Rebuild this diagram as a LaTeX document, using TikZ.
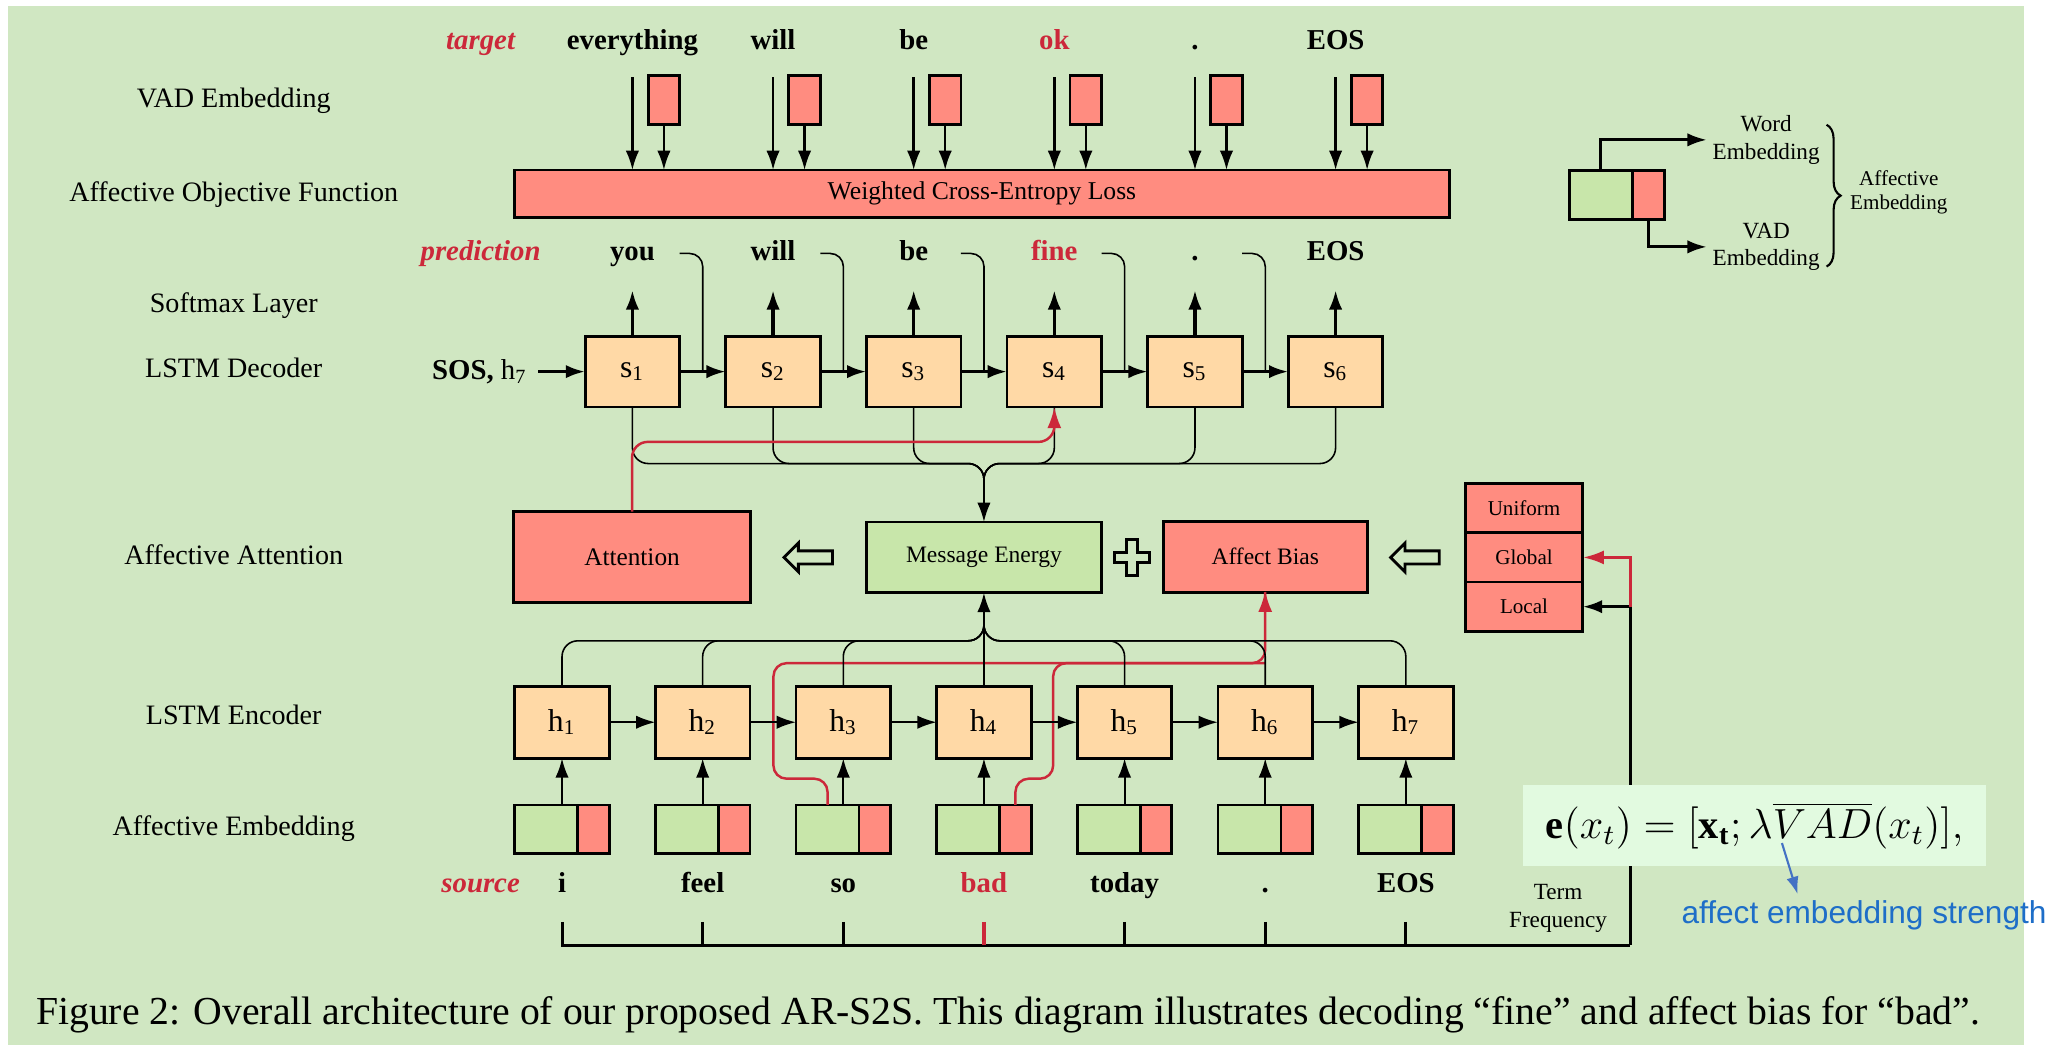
\documentclass[tikz,border=0pt]{standalone}
\usepackage{fontspec}
\setmainfont{Liberation Serif}
\setsansfont{Liberation Sans}
\usepackage{graphicx}
\usetikzlibrary{arrows.meta,calc,decorations.pathreplacing}

\definecolor{bgg}{RGB}{208,231,194}
\definecolor{peach}{RGB}{255,217,166}
\definecolor{lgreen}{RGB}{200,230,170}
\definecolor{salmon}{RGB}{255,140,128}
\definecolor{crimson}{RGB}{204,40,58}
\definecolor{fbg}{RGB}{226,250,224}
\definecolor{bluetxt}{RGB}{30,110,200}
\definecolor{bluearr}{RGB}{68,114,196}

\def\ux{0.013131cm}

\tikzset{
  bx/.style={draw, line width=0.8pt, inner sep=0pt, outer sep=0pt},
  sbox/.style={bx, fill=peach, minimum width={72*\ux}, minimum height={54*\ux}, font=\fontsize{9}{10}\selectfont},
  hbox/.style={bx, fill=peach, minimum width={72*\ux}, minimum height={55*\ux}, font=\fontsize{9}{10}\selectfont},
  egbox/.style={bx, fill=lgreen, minimum width={48*\ux}, minimum height={37*\ux}},
  erbox/.style={bx, fill=salmon, minimum width={24*\ux}, minimum height={37*\ux}},
  redbox/.style={bx, fill=salmon},
  lbl/.style={font=\fontsize{8}{9}\selectfont, anchor=base, inner sep=0pt},
  wordb/.style={font=\fontsize{8.2}{9}\selectfont\bfseries, anchor=base, inner sep=0pt},
  tagw/.style={font=\fontsize{8.2}{9}\selectfont\bfseries\itshape, text=crimson, anchor=base, inner sep=0pt},
  small/.style={font=\fontsize{6.6}{7.9}\selectfont, align=center, inner sep=0pt},
  tip/.style={-{Latex[length=5.5pt,width=3.8pt]}},
  thinl/.style={line width=0.45pt},
  decarr/.style={tip, line width=0.95pt},
  encarr/.style={tip, line width=0.6pt},
  redl/.style={draw=crimson, line width=0.7pt},
  redtip/.style={-{Latex[length=6pt,width=4pt]}},
  hollow/.style={line width=0.8pt},
}

\begin{document}
\begin{tikzpicture}[x=0.013131cm, y=-0.013131cm]
\useasboundingbox (0,0) rectangle (1568,796);
\fill[bgg] (6,4.6) rectangle (1541,796);

% ---- row labels on the left
\node[lbl] (lVAD) at (178,82) {VAD Embedding};
\node[lbl] (lAOF) at (178,153.7) {Affective Objective Function};
\node[lbl] (lSM)  at (178,238) {Softmax Layer};
\node[lbl] (lDec) at (178,287.5) {LSTM Decoder};
\node[lbl] (lAtt) at (178,430) {Affective Attention};
\node[lbl] (lEnc) at (178,552) {LSTM Encoder};
\node[lbl] (lEmb) at (178,636) {Affective Embedding};

% ---- helper coordinates (rows)
\coordinate (vtop) at (0,59);
\coordinate (smtop) at (0,221);
\coordinate (fb) at (0,193);
\coordinate (dbus) at (0,353);
\coordinate (dmerge) at (749.3,375);
\coordinate (rattn) at (0,336.5);
\coordinate (ebus) at (0,488);
\coordinate (emerge) at (749.3,470);
\coordinate (rb) at (0,505);
\coordinate (rs) at (0,593);
\coordinate (rl) at (589,0);
\coordinate (rr) at (802,0);
\coordinate (bb) at (0,720);
\coordinate (tktop) at (0,702);
\coordinate (bbr) at (1241.5,720);

% ---- loss box
\node[redbox, minimum width={712.5*\ux}, minimum height={36*\ux}, font=\fontsize{7.3}{8}\selectfont] (loss) at (747.8,147.5) {Weighted Cross-Entropy Loss};

% ---- target words, VAD boxes and their arrows
\node[tagw] (ttag) at (366,37.5) {target};
\foreach \k/\w/\c in {1/everything/black, 2/will/black, 3/be/black, 4/ok/crimson, 5/./black, 6/EOS/black} {
  \pgfmathsetmacro\xd{481.6+107.1*(\k-1)}
  \node[wordb, text=\c] (tw\k) at (\xd,37.5) {\w};
  \coordinate (vt\k) at (\xd,59);
  \node[redbox, minimum width={24*\ux}, minimum height={37.5*\ux}] (vb\k) at (\xd+24,76) {};
  \draw[tip, line width=0.7pt] (vt\k) -- (vt\k |- loss.north);
  \draw[tip, line width=0.7pt] (vb\k.south) -- (vb\k.south |- loss.north);
}

% ---- predictions and decoder
\node[tagw] (ptag) at (366,198.5) {prediction};
\foreach \k/\w/\c in {1/you/black, 2/will/black, 3/be/black, 4/fine/crimson, 5/./black, 6/EOS/black} {
  \pgfmathsetmacro\xd{481.6+107.1*(\k-1)}
  \node[wordb, text=\c] (pw\k) at (\xd,198.5) {\w};
  \node[sbox] (s\k) at (\xd,283) {s\textsubscript{\k}};
  \draw[tip, line width=0.9pt] (s\k.north) -- (s\k.north |- smtop);
}
\node[anchor=base east, inner sep=0pt, font=\fontsize{8.2}{9}\selectfont] (sos) at (402,289) {\textbf{SOS,} h\textsubscript{7}};
\draw[decarr] (sos.east |- s1.west) ++(8,0) coordinate (sosa) -- (s1.west);
\foreach \k in {1,...,5} {
  \pgfmathtruncatemacro\kn{\k+1}
  \coordinate (m\k) at ($(s\k.east)!0.5!(s\kn.west)$);
  \draw[decarr] (s\k.east) -- (s\kn.west);
  \draw[thinl, rounded corners={10*\ux}] (s\k.east |- fb) -- (m\k |- fb) -- (m\k);
}

% ---- attention row
\node[redbox, minimum width={180*\ux}, minimum height={69*\ux}, font=\fontsize{7.2}{8}\selectfont] (att) at (481.3,424.2) {Attention};
\node[bx, fill=lgreen, minimum width={179*\ux}, minimum height={54*\ux}, font=\fontsize{6.7}{8}\selectfont] (me) at (749.3,424.5) {Message Energy};
\node[redbox, minimum width={155.5*\ux}, minimum height={54*\ux}, font=\fontsize{6.7}{8}\selectfont] (ab) at (963.5,424) {Affect Bias};
\node[redbox, minimum width={89.5*\ux}, minimum height={37.5*\ux}, font=\fontsize{6}{7}\selectfont] (uni) at (1160.6,387) {Uniform};
\node[redbox, minimum width={89.5*\ux}, minimum height={37.5*\ux}, font=\fontsize{6}{7}\selectfont] (glob) at (1160.6,424.5) {Global};
\node[redbox, minimum width={89.5*\ux}, minimum height={37.5*\ux}, font=\fontsize{6}{7}\selectfont] (loc) at (1160.6,462) {Local};

% hollow arrows pointing left
\foreach \dx in {0,462} {
  \draw[hollow] (597+\dx,424.5) -- (608+\dx,413.5) -- (608+\dx,419.5) -- (634+\dx,419.5)
    -- (634+\dx,429.5) -- (608+\dx,429.5) -- (608+\dx,435.5) -- cycle;
}
% outlined plus sign
\draw[hollow] (858,411) -- (866,411) -- (866,420.5) -- (875.5,420.5) -- (875.5,428.5) -- (866,428.5)
  -- (866,438) -- (858,438) -- (858,428.5) -- (848.5,428.5) -- (848.5,420.5) -- (858,420.5) -- cycle;

% ---- decoder states gathered into the message energy
\foreach \k in {1,...,6} {
  \draw[thinl, rounded corners={12*\ux}] (s\k.south) -- (s\k.south |- dbus) -- (dbus -| dmerge) -- (dmerge);
}
\draw[tip, line width=0.6pt] (dmerge) -- (me.north);

% ---- encoder, embeddings and source words
\node[tagw] (stag) at (366,680) {source};
\foreach \k/\w/\c in {1/i/black, 2/feel/black, 3/so/black, 4/bad/crimson, 5/today/black, 6/./black, 7/EOS/black} {
  \pgfmathsetmacro\xe{428+107.1*(\k-1)}
  \node[hbox] (h\k) at (\xe,550) {h\textsubscript{\k}};
  \node[egbox] (eg\k) at (\xe-12,631.5) {};
  \node[erbox] (er\k) at (\xe+24,631.5) {};
  \node[wordb, text=\c] (sw\k) at (\xe,680) {\w};
  \coordinate (tk\k) at (\xe,702);
}

% red paths of the affect bias (drawn below the black connectors)
\draw[redl, rounded corners={10*\ux}] (eg3.north) -- (eg3.north |- rs) -- (rl |- rs) -- (rl |- rb) -- (rb -| ab.south) -- (ab.south);
\draw[redl, rounded corners={10*\ux}] (er4.north) -- (er4.north |- rs) -- (rr |- rs) -- (rr |- rb) -- (rb -| ab.south);
\draw[redl, redtip, shorten >=-0.4pt] ($(ab.south)+(0,40)$) coordinate (abin) -- (ab.south);

\foreach \k in {1,...,7} {
  \draw[encarr] (h\k.south |- eg\k.north) -- (h\k.south);
}
\foreach \k in {1,...,6} {
  \pgfmathtruncatemacro\kn{\k+1}
  \draw[encarr] (h\k.east) -- (h\kn.west);
}
\foreach \k in {1,2,3,5,6,7} {
  \draw[thinl, rounded corners={12*\ux}] (h\k.north) -- (h\k.north |- ebus) -- (ebus -| emerge) -- (emerge);
}
\draw[tip, line width=0.55pt] (h4.north) -- (me.south);

% red attention path to s4
\draw[redl, redtip, rounded corners={12*\ux}] (att.north) -- (att.north |- rattn) -- (rattn -| s4.south) -- (s4.south);

% ---- term frequency bus
\draw[line width=0.85pt] (tk1) -- (tk1 |- bb) -- (bbr);
\foreach \k in {2,3,5,6,7} {
  \draw[line width=0.8pt] (tk\k) -- (tk\k |- bb);
}
\draw[line width=0.9pt, draw=crimson] (tk4) -- (tk4 |- bb);
\draw[tip, line width=0.9pt] (bbr) |- (loc.east);
\draw[redl, line width=0.9pt, redtip] (bbr |- loc.east) |- (glob.east);
\node[small] (tf) at (1186.5,691.5) {Term\\Frequency};

% ---- affective embedding formula
\node[fill=fbg, inner sep=0pt, minimum width={352.5*\ux}, minimum height={61.5*\ux}, font=\fontsize{11.5}{14}\selectfont] (fbox) at (1336.2,628.7)
  {$\mathbf{e}(x_t) = [\mathbf{x_t}; \lambda\overline{VAD}(x_t)],$};
\coordinate (lam) at (1357,642);
\coordinate (lamtip) at (1369,681);
\draw[draw=bluearr, line width=0.6pt, -{Latex[length=5pt,width=3.5pt]}] (lam) -- (lamtip);
\node[anchor=west, inner sep=0pt, text=bluetxt, font=\sffamily\fontsize{9}{10}\selectfont] (aes) at (1280,697) {affect embedding strength};

% ---- legend
\node[egbox, minimum height={37.5*\ux}] (lg) at (1219,148.7) {};
\node[erbox, minimum height={37.5*\ux}, minimum width={24.5*\ux}] (lr) at (1255.5,148.7) {};
\node[small, inner sep=1.5pt] (wemb) at (1345,106.5) {Word\\Embedding};
\node[small, inner sep=1.5pt] (vemb) at (1345,188) {VAD\\Embedding};
\draw[tip, line width=0.8pt] (lg.north) |- (wemb.west);
\draw[tip, line width=0.8pt] (lr.south) |- (vemb.west);
\coordinate (brt) at (1391,95);
\coordinate (brb) at (1391,203);
\draw[line width=0.6pt, decorate, decoration={brace, amplitude=4pt}] (brt) -- (brb);
\node[small, font=\fontsize{6}{7.1}\selectfont] (aemb) at (1446,146.5) {Affective\\Embedding};

% ---- caption
\node[anchor=base west, inner sep=0pt, font=\fontsize{11.3}{13}\selectfont] (cap) at (27,780.5)
  {Figure 2: Overall architecture of our proposed AR-S2S. This diagram illustrates decoding “fine” and affect bias for “bad”.};
\end{tikzpicture}
\end{document}
